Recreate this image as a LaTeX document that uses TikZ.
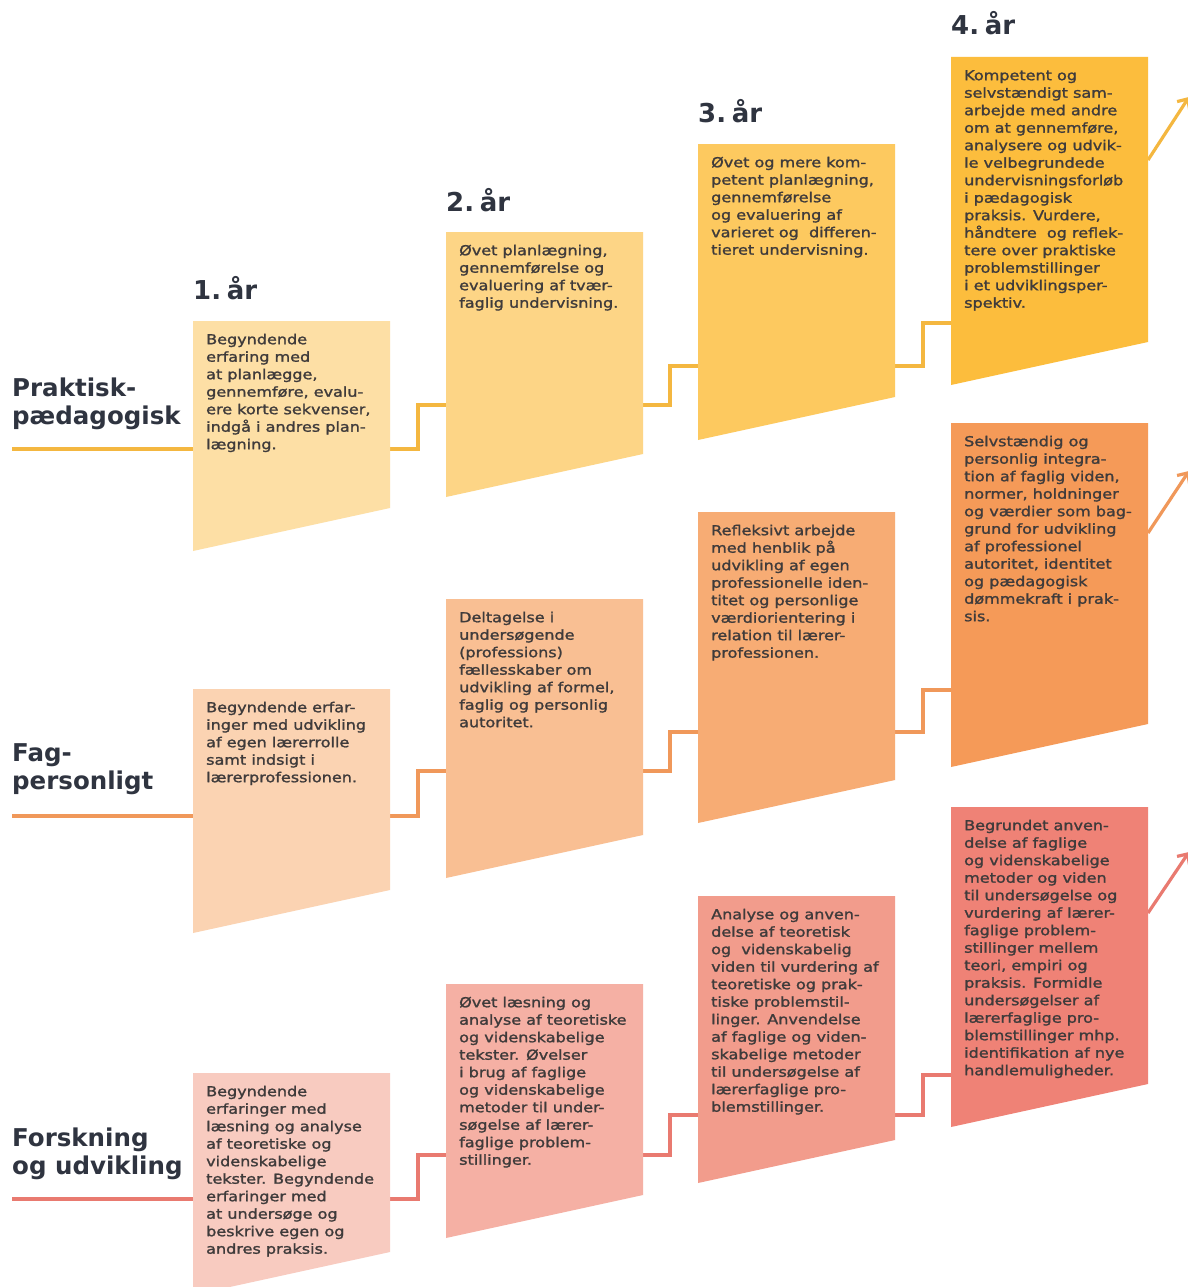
\documentclass[tikz,border=0pt]{standalone}
\usepackage{fontspec}
\usetikzlibrary{arrows.meta}
\newfontfamily\bodyfont[FakeStretch=1.17,FakeBold=1.5]{DejaVu Sans}
\newfontfamily\headfont{DejaVu Sans}
\definecolor{txt}{HTML}{3F3B3B}
\definecolor{lbl}{HTML}{2F3440}
\definecolor{lineA}{HTML}{F4B740}
\definecolor{lineB}{HTML}{F0985A}
\definecolor{lineC}{HTML}{E97A70}
\definecolor{bA1}{HTML}{FDDFA5}
\definecolor{bA2}{HTML}{FDD586}
\definecolor{bA3}{HTML}{FDC95F}
\definecolor{bA4}{HTML}{FCBD3D}
\definecolor{bB1}{HTML}{FBD3B2}
\definecolor{bB2}{HTML}{F9BF93}
\definecolor{bB3}{HTML}{F7AC74}
\definecolor{bB4}{HTML}{F59A58}
\definecolor{bC1}{HTML}{F8CBC0}
\definecolor{bC2}{HTML}{F5B0A4}
\definecolor{bC3}{HTML}{F29C8C}
\definecolor{bC4}{HTML}{EF8276}
\tikzset{
  boxtext/.style={anchor=north west, inner sep=0pt, align=left, text=txt,
    font=\bodyfont\fontsize{13.7}{17.5}\selectfont},
  rowlabel/.style={anchor=north west, inner sep=0pt, align=left, text=lbl,
    font=\headfont\bfseries\fontsize{24.5}{28}\selectfont},
  yearlabel/.style={anchor=base west, inner sep=0pt, text=lbl,
    font=\headfont\bfseries\fontsize{26}{30}\selectfont},
  conn/.style={line width=3.2pt},
  arr/.style={line width=3.2pt, -{Straight Barb[length=8pt,width=15pt,line width=3.2pt]}}
}
\newcommand\tbox[6]{%
  \fill[#5] (#2,#3) -- (#2+197,#3) -- (#2+197,#4-43) -- (#2,#4) -- cycle;
  \node[boxtext] (#1) at (#2+13,#3+12.5) {\rule{0pt}{10.5pt}#6};
}
\newcommand\yr[1]{#1.\hspace{0.22em}år}
\begin{document}
\begin{tikzpicture}[x=1pt,y=-1pt]
\useasboundingbox (0,0) rectangle (1187,1287);
\fill[white] (0,0) rectangle (1187,1287);

% ---------- coordinates for connectors ----------
% row 1
\coordinate (A0) at (12,449);   \coordinate (A1i) at (193,449);
\coordinate (A1o) at (390,449); \coordinate (A2i) at (446,405);
\coordinate (A2o) at (643,405); \coordinate (A3i) at (698,366);
\coordinate (A3o) at (895,366); \coordinate (A4i) at (951,323);
\coordinate (A4o) at (1148,160); \coordinate (A5) at (1189,97);
% row 2
\coordinate (B0) at (12,816);   \coordinate (B1i) at (193,816);
\coordinate (B1o) at (390,816); \coordinate (B2i) at (446,771);
\coordinate (B2o) at (643,771); \coordinate (B3i) at (698,732);
\coordinate (B3o) at (895,732); \coordinate (B4i) at (951,690);
\coordinate (B4o) at (1148,533); \coordinate (B5) at (1189,471);
% row 3
\coordinate (C0) at (12,1199);   \coordinate (C1i) at (193,1199);
\coordinate (C1o) at (390,1199); \coordinate (C2i) at (446,1155);
\coordinate (C2o) at (643,1155); \coordinate (C3i) at (698,1115);
\coordinate (C3o) at (895,1115); \coordinate (C4i) at (951,1075);
\coordinate (C4o) at (1148,913); \coordinate (C5) at (1189,852);

\begin{scope}[conn, lineA]
  \draw (A0) -- (A1i);
  \draw (A1o) -- ++(28,0) |- (A2i);
  \draw (A2o) -- ++(27,0) |- (A3i);
  \draw (A3o) -- ++(28,0) |- (A4i);
\end{scope}
\draw[arr, lineA] (A4o) -- (A5);
\begin{scope}[conn, lineB]
  \draw (B0) -- (B1i);
  \draw (B1o) -- ++(28,0) |- (B2i);
  \draw (B2o) -- ++(27,0) |- (B3i);
  \draw (B3o) -- ++(28,0) |- (B4i);
\end{scope}
\draw[arr, lineB] (B4o) -- (B5);
\begin{scope}[conn, lineC]
  \draw (C0) -- (C1i);
  \draw (C1o) -- ++(28,0) |- (C2i);
  \draw (C2o) -- ++(27,0) |- (C3i);
  \draw (C3o) -- ++(28,0) |- (C4i);
\end{scope}
\draw[arr, lineC] (C4o) -- (C5);

% ---------- year labels ----------
\node[yearlabel] (y1) at (193,299) {\yr{1}};
\node[yearlabel] (y2) at (446,211) {\yr{2}};
\node[yearlabel] (y3) at (698,123) {\yr{3}};
\node[yearlabel] (y4) at (951,35) {\yr{4}};

% ---------- row labels ----------
\node[rowlabel] (lA) at (12,378) {\rule{0pt}{18pt}Praktisk-\\pædagogisk};
\node[rowlabel] (lB) at (12,743) {\rule{0pt}{18pt}Fag-\\personligt};
\node[rowlabel] (lC) at (12,1128) {\rule{0pt}{18pt}Forskning\\og udvikling};

% ---------- row 1 boxes ----------
\tbox{A1}{193}{321}{551}{bA1}{Begyndende\\erfaring med\\at planlægge,\\gennemføre, evalu-\\ere korte sekvenser,\\indgå i andres plan-\\lægning.}
\tbox{A2}{446}{232}{497}{bA2}{Øvet planlægning,\\gennemførelse og\\evaluering af tvær-\\faglig undervisning.}
\tbox{A3}{698}{144}{440}{bA3}{Øvet og mere kom-\\petent planlægning,\\gennemførelse\\og evaluering af\\varieret og\ \ differen-\\tieret undervisning.}
\tbox{A4}{951}{57}{385}{bA4}{Kompetent og\\selvstændigt sam-\\arbejde med andre\\om at gennemføre,\\analysere og udvik-\\le velbegrundede\\undervisningsforløb\\i pædagogisk\\praksis. Vurdere,\\håndtere\ \ og reflek-\\tere over praktiske\\problemstillinger\\i et udviklingsper-\\spektiv.}

% ---------- row 2 boxes ----------
\tbox{B1}{193}{689}{933}{bB1}{Begyndende erfar-\\inger med udvikling\\af egen lærerrolle\\samt indsigt i\\lærerprofessionen.}
\tbox{B2}{446}{599}{878}{bB2}{Deltagelse i\\undersøgende\\(professions)\\fællesskaber om\\udvikling af formel,\\faglig og personlig\\autoritet.}
\tbox{B3}{698}{512}{823}{bB3}{Refleksivt arbejde\\med henblik på\\udvikling af egen\\professionelle iden-\\titet og personlige\\værdiorientering i\\relation til lærer-\\professionen.}
\tbox{B4}{951}{423}{767}{bB4}{Selvstændig og\\personlig integra-\\tion af faglig viden,\\normer, holdninger\\og værdier som bag-\\grund for udvikling\\af professionel\\autoritet, identitet\\og pædagogisk\\dømmekraft i prak-\\sis.}

% ---------- row 3 boxes ----------
\tbox{C1}{193}{1073}{1295}{bC1}{Begyndende\\erfaringer med\\læsning og analyse\\af teoretiske og\\videnskabelige\\tekster. Begyndende\\erfaringer med\\at undersøge og\\beskrive egen og\\andres praksis.}
\tbox{C2}{446}{984}{1238}{bC2}{Øvet læsning og\\analyse af teoretiske\\og videnskabelige\\tekster. Øvelser\\i brug af faglige\\og videnskabelige\\metoder til under-\\søgelse af lærer-\\faglige problem-\\stillinger.}
\tbox{C3}{698}{896}{1183}{bC3}{Analyse og anven-\\delse af teoretisk\\og\ \ videnskabelig\\viden til vurdering af\\teoretiske og prak-\\tiske problemstil-\\linger. Anvendelse\\af faglige og viden-\\skabelige metoder\\til undersøgelse af\\lærerfaglige pro-\\blemstillinger.}
\tbox{C4}{951}{807}{1127}{bC4}{Begrundet anven-\\delse af faglige\\og videnskabelige\\metoder og viden\\til undersøgelse og\\vurdering af lærer-\\faglige problem-\\stillinger mellem\\teori, empiri og\\praksis. Formidle\\undersøgelser af\\lærerfaglige pro-\\blemstillinger mhp.\\identifikation af nye\\handlemuligheder.}
\end{tikzpicture}
\end{document}
